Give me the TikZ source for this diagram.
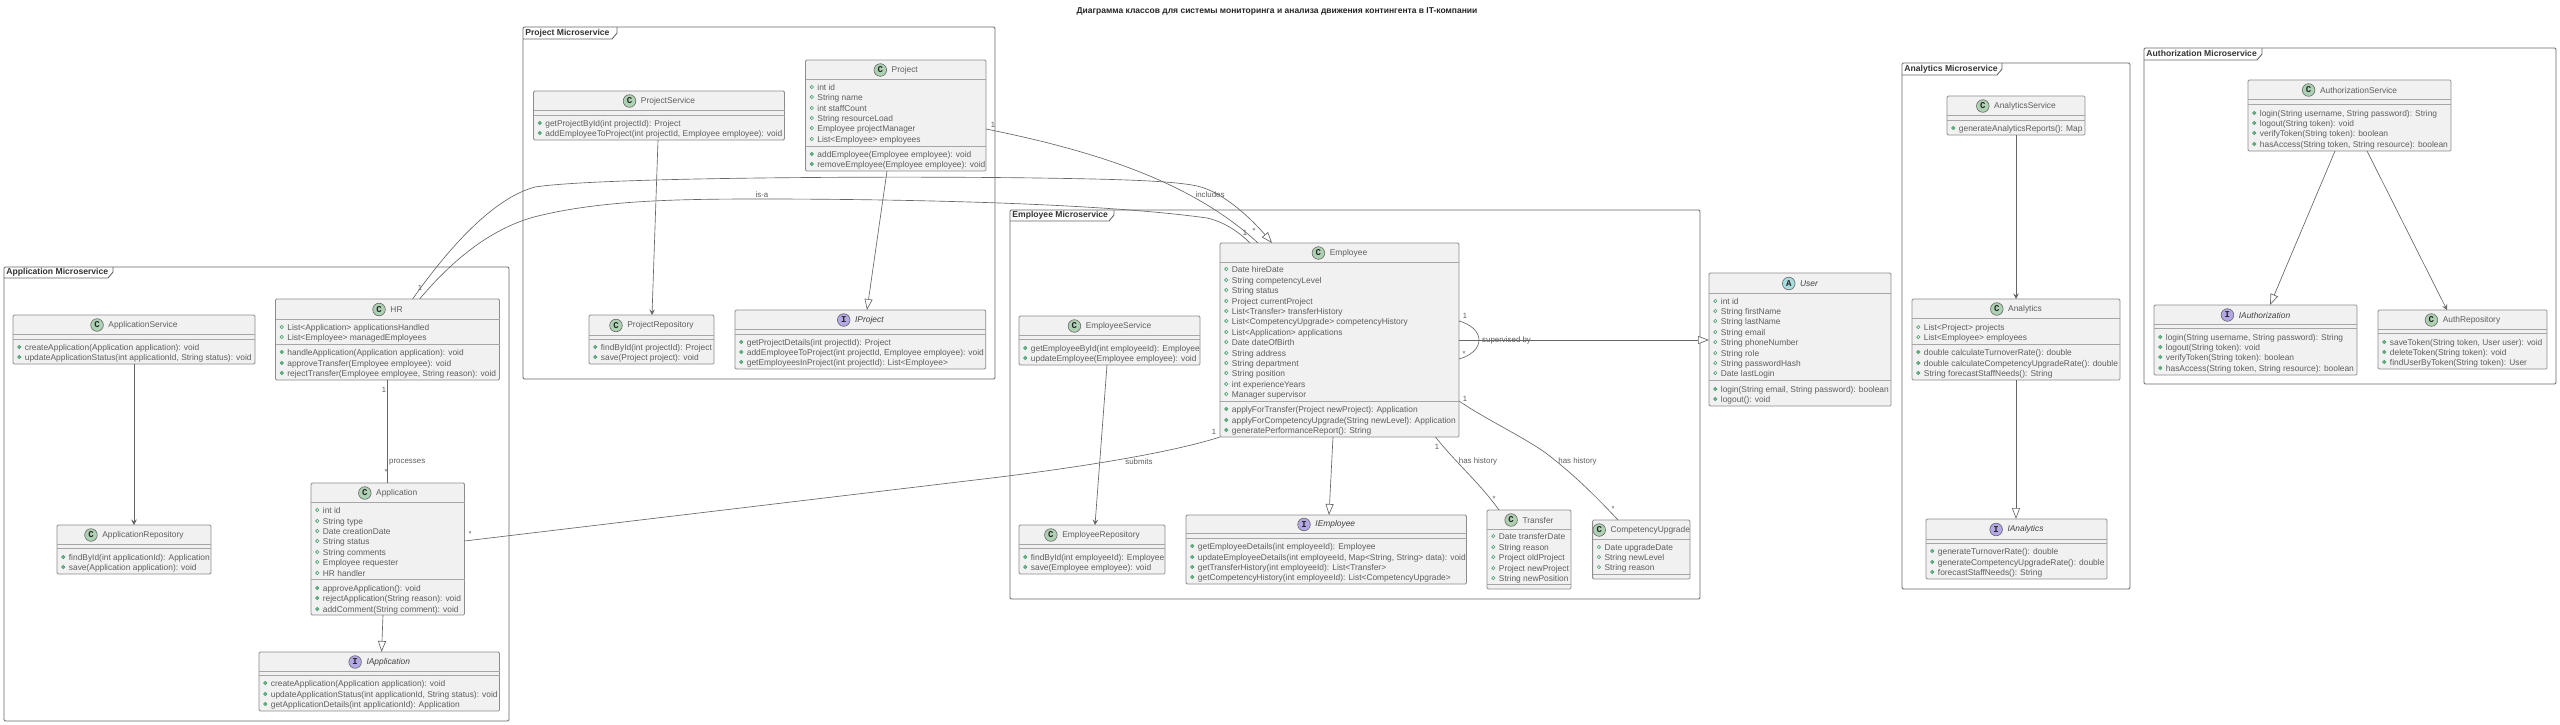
\documentclass[tikz,border=0pt]{standalone}
\usepackage{fontspec}
\setmainfont{Liberation Sans}
\newfontfamily\circfont{Liberation Mono}
\usetikzlibrary{arrows.meta,calc}
\definecolor{boxfill}{HTML}{F1F1F1}
\definecolor{boxline}{HTML}{8C8C8C}
\definecolor{sepline}{HTML}{A6A6A6}
\definecolor{frameline}{HTML}{666666}
\definecolor{connline}{HTML}{666666}
\definecolor{rowtxt}{HTML}{5E5E5E}
\definecolor{dotline}{HTML}{4B9E72}
\definecolor{dotfill}{HTML}{6FB185}
\definecolor{circC}{HTML}{ADD1B2}
\definecolor{circI}{HTML}{B4A7E5}
\definecolor{circA}{HTML}{A9DCDF}
\newcounter{rowc}
\tikzset{
  frm/.style={draw=frameline,line width=0.9pt,rounded corners=1.2pt,anchor=north west,inner sep=0pt,outer sep=0pt},
  frmtab/.style={draw=frameline,line width=0.9pt},
  frmtxt/.style={font=\fontsize{8.6}{10}\selectfont\bfseries,anchor=base west,inner sep=0pt,text=black!80},
  umlbox/.style={draw=boxline,fill=boxfill,line width=0.8pt,rounded corners=1.2pt,anchor=north west,inner sep=0pt,outer sep=0pt},
  sepl/.style={draw=sepline,line width=0.9pt},
  titletxt/.style={font=\fontsize{8.4}{10}\selectfont,text=rowtxt,inner sep=0pt},
  ititletxt/.style={font=\fontsize{8.4}{10}\selectfont\itshape,text=black!75,inner sep=0pt},
  circ/.style={circle,draw=black!60,line width=0.6pt,minimum size=12.6pt,inner sep=0pt,font=\fontsize{9}{10}\selectfont\circfont\bfseries,text=black!85},
  rowt/.style={font=\fontsize{8.4}{10}\selectfont,text=rowtxt,anchor=base west,inner sep=0pt},
  attrdot/.style={circle,draw=dotline,fill=boxfill,line width=0.6pt,minimum size=3.3pt,inner sep=0pt},
  methdot/.style={circle,draw=dotline,fill=dotfill,line width=0.5pt,minimum size=3.5pt,inner sep=0pt},
  conn/.style={draw=connline,line width=0.65pt},
  assoc/.style={conn,-{Stealth[length=5.5pt,width=5.5pt,inset=2pt]}},
  real/.style={conn,-{Triangle[open,fill=white,length=11pt,width=8pt]}},
  lbl/.style={font=\fontsize{7.9}{9}\selectfont,text=rowtxt,inner sep=0pt},
  card/.style={font=\fontsize{7.6}{9}\selectfont,text=rowtxt,inner sep=0pt},
}
% frame: name L T R B tabR tabB title
\newcommand{\frmbox}[8]{%
  \node[frm,minimum width={#4-#2},minimum height={#5-#3}] (#1) at (#2,#3) {};
  \path[frmtab] (#2,#7) -- ({#6-5},#7) -- (#6,{#7-6}) -- (#6,#3);
  \node[frmtxt] (#1-t) at ({#2+2.2},{#7-3.2}) {#8};
}
% class: name kind title L T R B hsep titlestyle
\newcommand{\cls}[9]{%
  \def\curL{#4}\def\curR{#6}%
  \pgfmathsetmacro{\wid}{#6-#4}\pgfmathsetmacro{\hei}{#7-#5}%
  \node[umlbox,minimum width=\wid pt,minimum height=\hei pt] (#1) at (#4,#5) {};
  \node[#9] (#1-t) at ({(#4+#6)/2+9},{(#5+#8)/2+0.5}) {#3};
  \node[circ,fill=circ#2,anchor=east] (#1-c) at ([xshift=-4.6pt]#1-t.west) {#2};
  \sepl{#8}%
}
\newcommand{\sepl}[1]{\path[sepl] (\curL,#1) -- (\curR,#1);}
\newcommand{\attr}[2]{\stepcounter{rowc}%
  \node[attrdot] (d\arabic{rowc}) at ({\curL+6.3},#1) {};
  \node[rowt] (r\arabic{rowc}) at ({\curL+11.7},{#1+3.1}) {#2};}
\newcommand{\meth}[2]{\stepcounter{rowc}%
  \node[methdot] (d\arabic{rowc}) at ({\curL+6.3},#1) {};
  \node[rowt] (r\arabic{rowc}) at ({\curL+11.7},{#1+3.1}) {#2};}
\begin{document}
\begin{tikzpicture}[x=1pt,y=-1pt]
\useasboundingbox (0,0) rectangle (2560,724);
\fill[white] (0,0) rectangle (2560,724);
\node[font=\fontsize{8.5}{11}\selectfont\bfseries,text=black!85,inner sep=0pt] (title) at (1277,11) {Диаграмма классов для системы мониторинга и анализа движения контингента в IT-компании};

\frmbox{fapp}{4}{267}{509}{721}{113}{278}{Application Microservice}
\frmbox{fprj}{523}{27}{995}{379}{617}{39}{Project Microservice}
\frmbox{femp}{1010}{210}{1700}{599}{1114}{221}{Employee Microservice}
\frmbox{fana}{1902}{63}{2130}{589}{2002}{75}{Analytics Microservice}
\frmbox{faut}{2144}{48}{2556}{384}{2262}{60}{Authorization Microservice}

% Application
\cls{appsvc}{C}{ApplicationService}{13}{315}{255}{364}{334}{titletxt}
\sepl{339}
\meth{347}{createApplication(Application application): void}
\meth{357}{updateApplicationStatus(int applicationId, String status): void}

\cls{apprepo}{C}{ApplicationRepository}{57}{525}{211}{574}{544}{titletxt}
\sepl{548}
\meth{557}{findById(int applicationId): Application}
\meth{567}{save(Application application): void}

\cls{hr}{C}{HR}{275.5}{299}{499.5}{380}{319}{titletxt}
\sepl{344}
\attr{327}{List<Application> applicationsHandled}
\attr{337}{List<Employee> managedEmployees}
\meth{352}{handleApplication(Application application): void}
\meth{363}{approveTransfer(Employee employee): void}
\meth{373}{rejectTransfer(Employee employee, String reason): void}

\cls{app}{C}{Application}{311}{483}{464.5}{615}{502}{titletxt}
\sepl{579}
\attr{510}{int id}
\attr{521}{String type}
\attr{531}{Date creationDate}
\attr{541}{String status}
\attr{552}{String comments}
\attr{562}{Employee requester}
\attr{573}{HR handler}
\meth{588}{approveApplication(): void}
\meth{598}{rejectApplication(String reason): void}
\meth{609}{addComment(String comment): void}

\cls{iapp}{I}{IApplication}{259}{652}{499.5}{711}{671}{ititletxt}
\sepl{675}
\meth{683}{createApplication(Application application): void}
\meth{694}{updateApplicationStatus(int applicationId, String status): void}
\meth{704}{getApplicationDetails(int applicationId): Application}

% Project
\cls{prjsvc}{C}{ProjectService}{533.5}{91}{784.5}{140}{110}{titletxt}
\sepl{115}
\meth{123}{getProjectById(int projectId): Project}
\meth{133}{addEmployeeToProject(int projectId, Employee employee): void}

\cls{prj}{C}{Project}{805.5}{60}{986}{171}{79}{titletxt}
\sepl{146}
\attr{87}{int id}
\attr{97}{String name}
\attr{108}{int staffCount}
\attr{118}{String resourceLoad}
\attr{128}{Employee projectManager}
\attr{139}{List<Employee> employees}
\meth{154}{addEmployee(Employee employee): void}
\meth{164}{removeEmployee(Employee employee): void}

\cls{prjrepo}{C}{ProjectRepository}{589}{315}{714}{364}{335}{titletxt}
\sepl{339}
\meth{347}{findById(int projectId): Project}
\meth{357}{save(Project project): void}

\cls{iprj}{I}{IProject}{735}{310}{985.7}{369}{329}{ititletxt}
\sepl{334}
\meth{342}{getProjectDetails(int projectId): Project}
\meth{352}{addEmployeeToProject(int projectId, Employee employee): void}
\meth{362}{getEmployeesInProject(int projectId): List<Employee>}

% Employee
\cls{empsvc}{C}{EmployeeService}{1019}{316}{1200}{365}{335}{titletxt}
\sepl{339}
\meth{348}{getEmployeeById(int employeeId): Employee}
\meth{358}{updateEmployee(Employee employee): void}

\cls{emprepo}{C}{EmployeeRepository}{1019}{525}{1165}{574}{544}{titletxt}
\sepl{548}
\meth{557}{findById(int employeeId): Employee}
\meth{567}{save(Employee employee): void}

\cls{emp}{C}{Employee}{1220}{243}{1459}{437}{262}{titletxt}
\sepl{401}
\attr{269}{Date hireDate}
\attr{280}{String competencyLevel}
\attr{290}{String status}
\attr{301}{Project currentProject}
\attr{311}{List<Transfer> transferHistory}
\attr{321}{List<CompetencyUpgrade> competencyHistory}
\attr{332}{List<Application> applications}
\attr{342}{Date dateOfBirth}
\attr{353}{String address}
\attr{363}{String department}
\attr{373}{String position}
\attr{384}{int experienceYears}
\attr{394}{Manager supervisor}
\meth{409}{applyForTransfer(Project newProject): Application}
\meth{420}{applyForCompetencyUpgrade(String newLevel): Application}
\meth{430}{generatePerformanceReport(): String}

\cls{iemp}{I}{IEmployee}{1186}{515}{1466.5}{584}{533}{ititletxt}
\sepl{538}
\meth{546}{getEmployeeDetails(int employeeId): Employee}
\meth{557}{updateEmployeeDetails(int employeeId, Map<String, String> data): void}
\meth{567}{getTransferHistory(int employeeId): List<Transfer>}
\meth{577}{getCompetencyHistory(int employeeId): List<CompetencyUpgrade>}

\cls{trans}{C}{Transfer}{1487}{510}{1571}{589}{529}{titletxt}
\sepl{584}
\attr{536}{Date transferDate}
\attr{547}{String reason}
\attr{557}{Project oldProject}
\attr{568}{Project newProject}
\attr{578}{String newPosition}

\cls{comp}{C}{CompetencyUpgrade}{1592.6}{520}{1690}{579}{539}{titletxt}
\sepl{574}
\attr{547}{Date upgradeDate}
\attr{557}{String newLevel}
\attr{567}{String reason}

% User
\cls{usr}{A}{User}{1709}{273}{1891}{406}{293}{ititletxt}
\sepl{380}
\attr{301}{int id}
\attr{311}{String firstName}
\attr{321}{String lastName}
\attr{332}{String email}
\attr{342}{String phoneNumber}
\attr{353}{String role}
\attr{363}{String passwordHash}
\attr{373}{Date lastLogin}
\meth{389}{login(String email, String password): boolean}
\meth{399}{logout(): void}

% Analytics
\cls{anasvc}{C}{AnalyticsService}{1947}{96}{2085}{135}{115}{titletxt}
\sepl{120}
\meth{128}{generateAnalyticsReports(): Map}

\cls{ana}{C}{Analytics}{1912}{299}{2120}{380}{318}{titletxt}
\sepl{344}
\attr{327}{List<Project> projects}
\attr{337}{List<Employee> employees}
\meth{352}{double calculateTurnoverRate(): double}
\meth{363}{double calculateCompetencyUpgradeRate(): double}
\meth{373}{String forecastStaffNeeds(): String}

\cls{iana}{I}{IAnalytics}{1926}{519}{2107}{579}{539}{ititletxt}
\sepl{543}
\meth{551}{generateTurnoverRate(): double}
\meth{562}{generateCompetencyUpgradeRate(): double}
\meth{572}{forecastStaffNeeds(): String}

% Authorization
\cls{autsvc}{C}{AuthorizationService}{2248}{80}{2451}{151}{99}{titletxt}
\sepl{104}
\meth{113}{login(String username, String password): String}
\meth{123}{logout(String token): void}
\meth{133}{verifyToken(String token): boolean}
\meth{144}{hasAccess(String token, String resource): boolean}

\cls{iaut}{I}{IAuthorization}{2154}{305}{2357}{375}{324}{ititletxt}
\sepl{328}
\meth{337}{login(String username, String password): String}
\meth{347}{logout(String token): void}
\meth{357}{verifyToken(String token): boolean}
\meth{368}{hasAccess(String token, String resource): boolean}

\cls{autrepo}{C}{AuthRepository}{2378}{310}{2547}{369}{329}{titletxt}
\sepl{333}
\meth{342}{saveToken(String token, User user): void}
\meth{352}{deleteToken(String token): void}
\meth{362}{findUserByToken(String token): User}

% Connectors
\draw[assoc] ([xshift=121pt]appsvc.south west) -- ([xshift=77pt]apprepo.north west);
\draw[conn] ([xshift=112.1pt]hr.south west) -- ([xshift=76.6pt]app.north west);
\draw[real] ([xshift=72pt]app.south west) -- ([xshift=122.6pt]iapp.north west);
\draw[conn] ([yshift=-58pt]app.north east) -- (1000,477) .. controls (1080,467) and (1170,453) .. (emp.south west);
% HR to Employee, the two long curves
\draw[conn] ([xshift=144.1pt]hr.north west) .. controls (465,245) and (505,225) .. (534,217)
   .. controls (600,200) and (680,199) .. (761,199) .. controls (900,199) and (1100,203) .. (1207,218)
   .. controls (1225,222) and (1240,233) .. ([xshift=30pt]emp.north west);
\draw[real] ([xshift=137.1pt]hr.north west) .. controls (465,225) and (505,195) .. (535,187)
   .. controls (600,177) and (900,176) .. (1038,178) .. controls (1100,179) and (1170,180) .. (1197,186)
   .. controls (1225,192) and (1255,223) .. ([xshift=52pt]emp.north west);
\draw[conn] ([yshift=-69pt]prj.north east) .. controls (1090,150) and (1190,180) .. ([xshift=38pt]emp.north west);
\draw[assoc] ([xshift=124.5pt]prjsvc.south west) -- ([xshift=63pt]prjrepo.north west);
\draw[real] ([xshift=81.5pt]prj.south west) -- ([xshift=132pt]iprj.north west);
\draw[assoc] ([xshift=88pt]empsvc.south west) -- ([xshift=76pt]emprepo.north west);
\draw[real] ([xshift=113pt]emp.south west) -- ([xshift=143pt]iemp.north west);
\draw[real] ([yshift=-97pt]emp.north east) -- ([yshift=-67pt]usr.north west);
\draw[conn] ([yshift=-78pt]emp.north east) .. controls (1470,324) and (1479,331) .. (1479,340)
   .. controls (1479,349) and (1470,356) .. ([yshift=-116pt]emp.north east);
\draw[conn] ([xshift=215.5pt]emp.south west) .. controls (1455,462) and (1478,481) .. ([xshift=12pt]trans.north west);
\draw[conn] ([yshift=-158pt]emp.north east) .. controls (1490,422) and (1530,440) .. (1551,457)
   .. controls (1570,472) and (1590,490) .. ([xshift=25.4pt]comp.north west);
\draw[assoc] ([xshift=69pt]anasvc.south west) -- ([xshift=104pt]ana.north west);
\draw[real] ([xshift=104pt]ana.south west) -- ([xshift=90pt]iana.north west);
\draw[real] ([xshift=87pt]autsvc.south west) -- ([xshift=116pt]iaut.north west);
\draw[assoc] ([xshift=119pt]autsvc.south west) -- ([xshift=69pt]autrepo.north west);

% Connector labels
\node[lbl,anchor=west] (l1) at (389,462) {processes};
\node[card] (c1) at (384,390) {1};
\node[card] (c2) at (386,472) {*};
\node[card] (c3) at (470,534) {*};
\node[card] (c4) at (1214,432) {1};
\node[lbl] (l2) at (1139,462) {submits};
\node[lbl] (l3) at (762,195) {is-a};
\node[lbl] (l4) at (1210,195) {includes};
\node[card] (c5) at (420,288) {1};
\node[card] (c6) at (993,125) {1};
\node[card] (c7) at (1245,233) {1};
\node[card] (c8) at (1254,231) {*};
\node[lbl,anchor=west] (l5) at (1482,340) {supervised by};
\node[card] (c9) at (1465,316) {1};
\node[card] (c10) at (1464,354) {*};
\node[card] (c11) at (1437,447) {1};
\node[card] (c12) at (1494,499) {*};
\node[lbl] (l6) at (1478,461) {has history};
\node[card] (c13) at (1465,399) {1};
\node[card] (c14) at (1613,509) {*};
\node[lbl] (l7) at (1577.5,461) {has history};
\end{tikzpicture}
\end{document}
